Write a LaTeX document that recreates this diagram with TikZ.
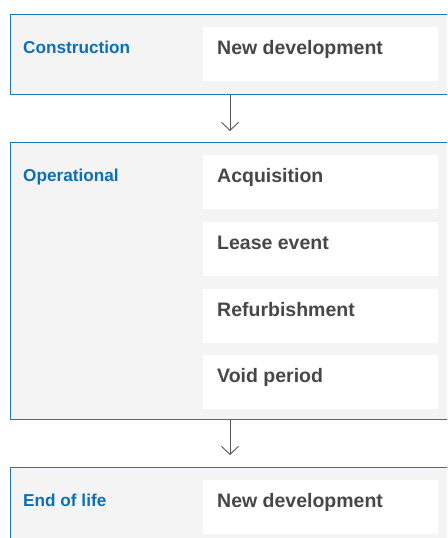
\documentclass[tikz,border=0pt]{standalone}
\usepackage{fontspec}
\setmainfont{Liberation Sans}
\usetikzlibrary{arrows.meta}
\definecolor{bblue}{HTML}{1B77C0}
\definecolor{tblue}{HTML}{0B6FB8}
\definecolor{tgray}{HTML}{474747}
\definecolor{pfill}{HTML}{F4F4F4}
\definecolor{agray}{HTML}{555555}
\tikzset{
  phase/.style={draw=bblue, line width=1.2pt, fill=pfill, rectangle, anchor=north west, inner sep=0pt, minimum width=460pt},
  item/.style={fill=white, rectangle, anchor=north west, inner sep=0pt, minimum width=235pt, minimum height=54pt},
  itemtext/.style={anchor=base west, text=tgray, font=\bfseries\fontsize{19.5}{22}\selectfont, inner sep=0pt},
  label/.style={anchor=base west, text=tblue, font=\bfseries\fontsize{17.2}{20}\selectfont, inner sep=0pt},
  arr/.style={draw=agray, line width=0.9pt, -{Straight Barb[length=8pt,width=17pt,line width=0.9pt]}}
}
\begin{document}
\begin{tikzpicture}[x=1pt,y=-1pt]
\useasboundingbox (0,0) rectangle (447,538);
\clip (0,0) rectangle (447,538);
% phase boxes
\node[phase, minimum height=80pt] (b1) at (10,14) {};
\node[phase, minimum height=277pt] (b2) at (10,142) {};
\node[phase, minimum height=90pt] (b3) at (10,467) {};
% items
\node[item] (i1) at (203,27) {};
\node[item] (i2) at (203,155) {};
\node[item] (i3) at (203,222) {};
\node[item] (i4) at (203,289) {};
\node[item] (i5) at (203,355) {};
\node[item] (i6) at (203,480) {};
% labels
\node[label] (l1) at (23,53) {Construction};
\node[label] (l2) at (23,181) {Operational};
\node[label] (l3) at (23,506) {End of life};
% item texts
\node[itemtext] (t1) at (217,54) {New development};
\node[itemtext] (t2) at (217,182) {Acquisition};
\node[itemtext] (t3) at (217,249) {Lease event};
\node[itemtext] (t4) at (217,316) {Refurbishment};
\node[itemtext] (t5) at (217,382) {Void period};
\node[itemtext] (t6) at (217,507) {New development};
% arrows
\coordinate (ax) at (230,0);
\draw[arr, shorten >=11pt] (b1.south -| ax) -- (b2.north -| ax);
\draw[arr, shorten >=12pt] (b2.south -| ax) -- (b3.north -| ax);
\end{tikzpicture}
\end{document}
